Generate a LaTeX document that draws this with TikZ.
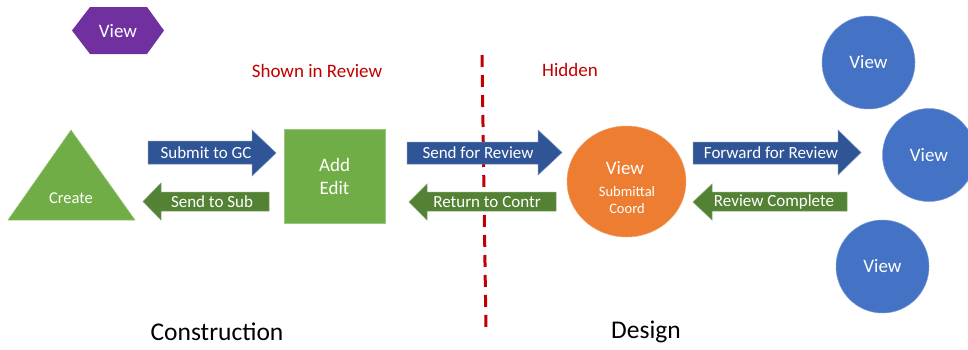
\documentclass[tikz,border=0pt]{standalone}
\usepackage{fontspec}
\setmainfont{Carlito}
\usetikzlibrary{shapes.geometric}
\definecolor{cpurple}{HTML}{7030A0}
\definecolor{cgreen}{HTML}{70AD47}
\definecolor{cdgreen}{HTML}{548235}
\definecolor{cblue}{HTML}{2F5597}
\definecolor{cview}{HTML}{4472C4}
\definecolor{corange}{HTML}{ED7D31}
\definecolor{cred}{HTML}{C00000}
\tikzset{
  lbl/.style={text=white, font=\fontsize{17}{19}\selectfont, inner sep=0pt},
  redlbl/.style={text=cred, font=\fontsize{19}{21}\selectfont, inner sep=0pt},
  biglbl/.style={text=black, font=\fontsize{25.5}{28}\selectfont, inner sep=0pt},
  blueshape/.style={fill=cblue, draw=cblue!70!white, line width=0.5pt},
  greenshape/.style={fill=cdgreen, draw=cdgreen!70!white, line width=0.5pt},
  viewcirc/.style={circle, fill=cview, draw=cview!70!white, line width=0.5pt, minimum size=93pt, inner sep=0pt, text=white, font=\fontsize{19}{21}\selectfont},
}
\begin{document}
\begin{tikzpicture}[x=1pt,y=-1pt]
\useasboundingbox (0,0) rectangle (968,349);
% hexagon
\fill[cpurple] (72,30.5) -- (90,7) -- (147,7) -- (164,30.5) -- (147,54) -- (90,54) -- cycle;
\node[lbl, font=\fontsize{19}{21}\selectfont] (hexview) at (118,31) {View};
% red labels
\node[redlbl] (shown) at (317,71) {Shown in Review};
\node[redlbl] (hidden) at (570,70) {Hidden};
% dashed line
\coordinate (dtop) at (482,55);
\coordinate (dbot) at (486,333);
\draw[cred, line width=3pt, dash pattern=on 12pt off 8pt] (dtop) -- (dbot);
% triangle
\fill[cgreen, draw=cgreen!70!white, line width=0.5pt] (71,130) -- (135,220) -- (8,220) -- cycle;
\node[lbl, font=\fontsize{16.5}{19}\selectfont] (create) at (71,198) {Create};
% Add Edit square
\node[fill=cgreen, draw=cgreen!70!white, line width=0.5pt, minimum width=101pt, minimum height=94pt, inner sep=0pt, align=center, text=white, font=\fontsize{19}{23}\selectfont] (addedit) at (334.5,176) {Add\\Edit};
% Submit to GC
\draw[blueshape] (148,141) -- (252,141) -- (252,130) -- (276,153) -- (252,176) -- (252,164) -- (148,164) -- cycle;
\node[lbl] (submit) at (206,153) {Submit to GC};
% Send to Sub
\draw[greenshape] (143,201.5) -- (161,183) -- (161,192) -- (269,192) -- (269,211) -- (161,211) -- (161,220) -- cycle;
\node[lbl] (sendsub) at (212,202) {Send to Sub};
% Send for Review
\draw[blueshape] (407,142) -- (538,142) -- (538,130) -- (562,152.5) -- (538,175) -- (538,164) -- (407,164) -- cycle;
\node[lbl] (sendrev) at (478,153) {Send for Review};
% Return to Contr
\draw[greenshape] (409,202) -- (427,184) -- (427,192) -- (556,192) -- (556,211) -- (427,211) -- (427,220) -- cycle;
\node[lbl] (retcontr) at (487,202) {Return to Contr};
% orange ellipse
\node[ellipse, fill=corange, draw=corange!70!white, line width=0.5pt, minimum width=119pt, minimum height=111pt, inner sep=0pt] (coord) at (626.5,181.5) {};
\node[text=white, font=\fontsize{19}{21}\selectfont, inner sep=0pt] (cview) at (625,168) {View};
\node[text=white, font=\fontsize{14.5}{16}\selectfont, inner sep=0pt] (csub) at (627,192) {Submittal};
\node[text=white, font=\fontsize{14.5}{16}\selectfont, inner sep=0pt] (ccoord) at (627,209) {Coord};
% Forward for Review
\draw[blueshape] (693,142) -- (838,142) -- (838,130) -- (861,152.5) -- (838,175) -- (838,164) -- (693,164) -- cycle;
\node[lbl] (fwd) at (771,153) {Forward for Review};
% Review Complete
\draw[greenshape] (693,202) -- (712,184) -- (712,192) -- (847,192) -- (847,211) -- (712,211) -- (712,220) -- cycle;
\node[lbl] (revcomp) at (774,202) {Review Complete};
% blue circles
\node[viewcirc] (v1) at (868.5,62.5) {View};
\node[viewcirc] (v2) at (929,155) {View};
\node[viewcirc] (v3) at (882.5,266.5) {View};
% bottom labels
\node[biglbl] (constr) at (217,332) {Construction};
\node[biglbl] (design) at (646,332) {Design};
\end{tikzpicture}
\end{document}
